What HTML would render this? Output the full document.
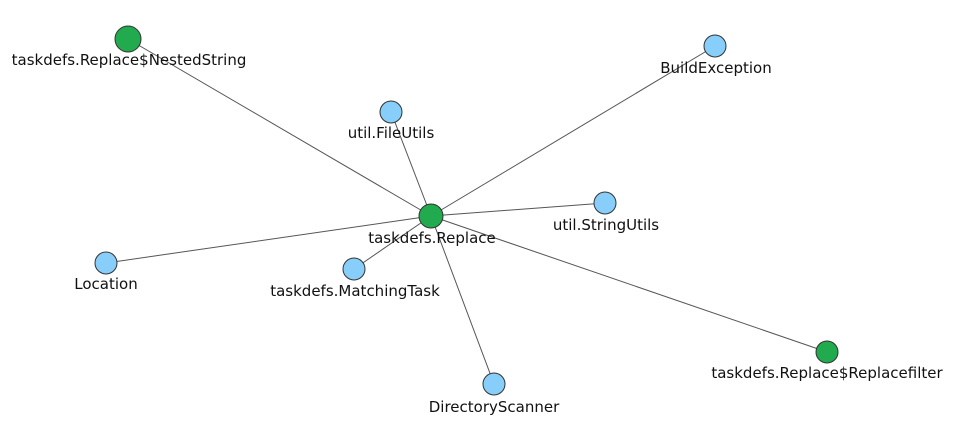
<!DOCTYPE html>
<html><head><style>body{margin:0;background:#fff}svg text{font-family:"DejaVu Sans","Liberation Sans",sans-serif;font-size:15px;fill:#111;text-anchor:middle}</style></head>
<body>
<svg width="971" height="440" xmlns="http://www.w3.org/2000/svg">
<g stroke="#555" stroke-width="1">
<line x1="431" y1="216" x2="128" y2="39"/>
<line x1="431" y1="216" x2="715" y2="46"/>
<line x1="431" y1="216" x2="391" y2="112"/>
<line x1="431" y1="216" x2="605" y2="203"/>
<line x1="431" y1="216" x2="106" y2="263"/>
<line x1="431" y1="216" x2="354" y2="269"/>
<line x1="431" y1="216" x2="827" y2="352"/>
<line x1="431" y1="216" x2="494" y2="384"/>
</g>
<g stroke="#333" stroke-width="1">
<circle cx="128" cy="39" r="13" fill="#22aa4f"/>
<circle cx="715" cy="46" r="11" fill="#87cefa"/>
<circle cx="391" cy="112" r="11" fill="#87cefa"/>
<circle cx="605" cy="203" r="11" fill="#87cefa"/>
<circle cx="106" cy="263" r="11" fill="#87cefa"/>
<circle cx="354" cy="269" r="11" fill="#87cefa"/>
<circle cx="827" cy="352" r="11" fill="#22aa4f"/>
<circle cx="494" cy="384" r="11" fill="#87cefa"/>
<circle cx="431" cy="216" r="12" fill="#22aa4f"/>
</g>
<text x="129" y="65">taskdefs.Replace$NestedString</text>
<text x="716" y="73">BuildException</text>
<text x="391" y="138">util.FileUtils</text>
<text x="432" y="243">taskdefs.Replace</text>
<text x="606" y="230">util.StringUtils</text>
<text x="106" y="289">Location</text>
<text x="355" y="296">taskdefs.MatchingTask</text>
<text x="827" y="378">taskdefs.Replace$Replacefilter</text>
<text x="494" y="412">DirectoryScanner</text>
</svg>
</body></html>
